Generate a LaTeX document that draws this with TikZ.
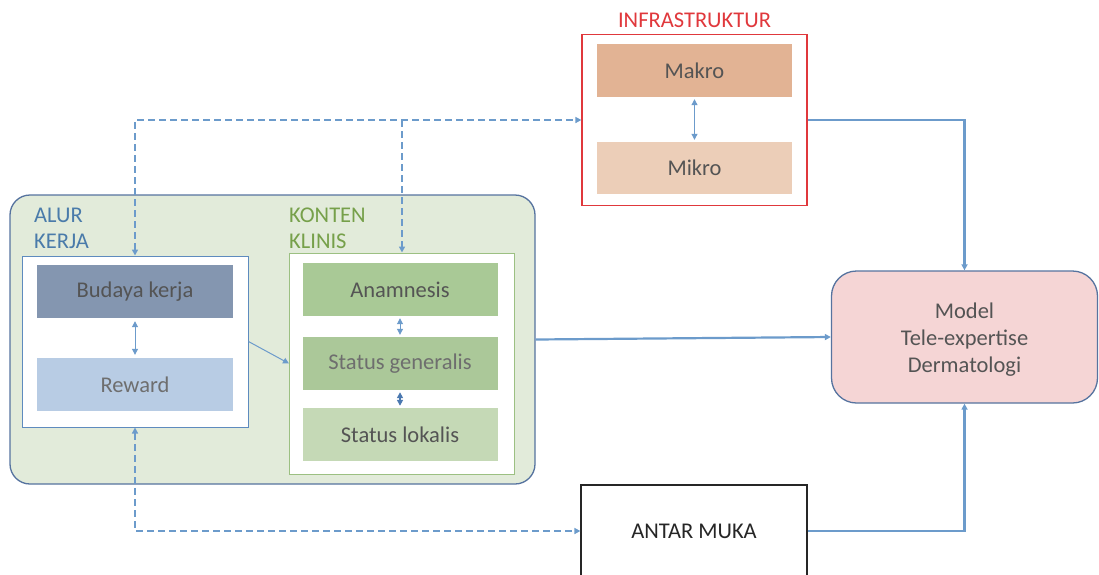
\documentclass[tikz,border=0pt]{standalone}
\usepackage{fontspec}
\setmainfont{Carlito}
\usetikzlibrary{arrows.meta}
\definecolor{linkblue}{HTML}{6C9BCB}
\definecolor{darklink}{HTML}{4A78B0}
\definecolor{frameblue}{HTML}{56739F}
\definecolor{alurblue}{HTML}{4A7BAA}
\definecolor{kontengreen}{HTML}{76A04A}
\definecolor{boxtext}{HTML}{545454}
\definecolor{infrared}{HTML}{E0383C}
\tikzset{
  lbl/.style={font=\fontsize{22.5}{26}\selectfont, text=boxtext},
  block/.style={rectangle, inner sep=0pt, lbl},
  panel/.style={rectangle, inner sep=0pt, fill=white},
  tip/.style={-{Triangle[length=6pt,width=6pt]}},
  duotip/.style={{Triangle[length=6pt,width=6pt]}-{Triangle[length=6pt,width=6pt]}},
  link/.style={draw=linkblue, line width=2.2pt},
  dashlink/.style={draw=linkblue, line width=2.2pt, dash pattern=on 7pt off 4pt},
  thin/.style={draw=linkblue, line width=1pt},
}
\begin{document}
\begin{tikzpicture}[x=1pt,y=-1pt]
\useasboundingbox (0,0) rectangle (1099,574);
\clip (0,0) rectangle (1099,574);

% outer work-flow container
\node[rectangle, rounded corners=20pt, draw=frameblue, line width=1.3pt, fill={rgb,255:red,226;green,235;blue,218},
      minimum width=525pt, minimum height=289pt] (bigbox) at (272.5,339.5) {};
\node[lbl, text=alurblue, align=left, anchor=west, inner sep=2pt] (alurlbl) at (32,228) {ALUR\\KERJA};
\node[lbl, text=kontengreen, align=left, anchor=west, inner sep=2pt] (kontenlbl) at (287,228) {KONTEN\\KLINIS};

% ALUR KERJA panel
\node[panel, draw={rgb,255:red,94;green,139;blue,190}, line width=1pt, minimum width=226pt, minimum height=171pt] (alurbox) at (135,341.5) {};
\node[block, fill={rgb,255:red,132;green,150;blue,176}, minimum width=196pt, minimum height=53pt] (budaya) at (135,291.5) {Budaya kerja};
\node[block, fill={rgb,255:red,184;green,204;blue,228}, text={rgb,255:red,110;green,110;blue,110}, minimum width=196pt, minimum height=53pt] (reward) at (135,384.5) {Reward};

% KONTEN KLINIS panel
\node[panel, draw={rgb,255:red,156;green,192;blue,130}, line width=1pt, minimum width=225pt, minimum height=221pt] (kontenbox) at (402,363.5) {};
\node[block, fill={rgb,255:red,169;green,201;blue,150}, minimum width=195pt, minimum height=53pt] (anam) at (400,289.5) {Anamnesis};
\node[block, fill={rgb,255:red,171;green,200;blue,153}, text={rgb,255:red,110;green,110;blue,110}, minimum width=195pt, minimum height=53pt] (statgen) at (400,363.5) {Status generalis};
\node[block, fill={rgb,255:red,197;green,217;blue,182}, minimum width=195pt, minimum height=53pt] (statlok) at (400,434.5) {Status lokalis};

% INFRASTRUKTUR
\node[lbl, text=infrared] (infralbl) at (694.5,20) {INFRASTRUKTUR};
\node[panel, draw=infrared, line width=1.2pt, minimum width=225pt, minimum height=171pt] (infra) at (694.5,120) {};
\node[block, fill={rgb,255:red,226;green,179;blue,148}, minimum width=195pt, minimum height=53pt] (makro) at (694.5,70.5) {Makro};
\node[block, fill={rgb,255:red,236;green,206;blue,184}, minimum width=195pt, minimum height=52pt] (mikro) at (694.5,168) {Mikro};

% result model
\node[rectangle, rounded corners=25pt, draw=frameblue, line width=1.3pt, fill={rgb,255:red,245;green,213;blue,213},
      minimum width=266pt, minimum height=132pt] (model) at (964.5,337) {};
\node[lbl, align=center, font=\fontsize{22.5}{27}\selectfont, inner sep=0pt, yshift=-3pt] (modeltext) at (model.center) {Model\\Tele-expertise\\Dermatologi};

% ANTAR MUKA
\node[panel, draw=black!85, line width=1.2pt, lbl, text=black!85, minimum width=226pt, minimum height=92pt] (antar) at (694,531) {ANTAR MUKA};

% dashed feedback links
\draw[dashlink, duotip] (alurbox.north) |- (infra.west);
\draw[dashlink, tip] (kontenbox.north |- infra.west) -- (kontenbox.north);
\draw[dashlink, duotip] (alurbox.south) |- (antar.west);

% inner two-way links
\draw[thin, duotip, shorten <=3pt, shorten >=3pt] (budaya.south) -- (reward.north);
\draw[thin, duotip, shorten <=2pt, shorten >=2pt] (anam.south) -- (statgen.north);
\draw[draw=darklink, line width=1.6pt, duotip, shorten <=2pt, shorten >=2pt] (statgen.south) -- (statlok.north);
\draw[thin, duotip, shorten <=2pt, shorten >=2pt] (makro.south) -- (mikro.north);
\draw[thin, tip] (alurbox.east) -- (kontenbox.west);

% links into the model
\draw[link, tip] (infra.east) -| (model.north);
\draw[link, tip] (bigbox.east) -- (model.west);
\draw[link, tip] (antar.east) -| (model.south);
\end{tikzpicture}
\end{document}
